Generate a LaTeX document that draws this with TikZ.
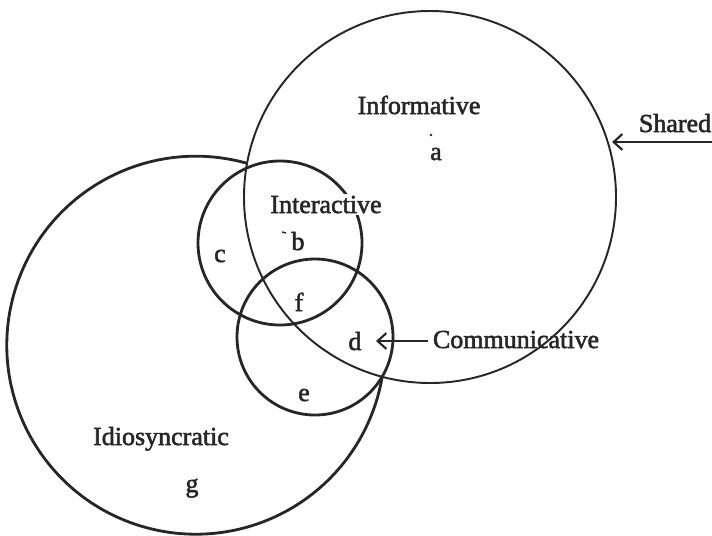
\documentclass[tikz,border=0pt]{standalone}
\usepackage{fontspec}
\setmainfont{Liberation Serif}
\newfontfamily\lblfont[FakeBold=2]{Liberation Serif}
\usetikzlibrary{arrows.meta}
\begin{document}
\begin{tikzpicture}[x=0.02cm,y=-0.02cm,
  thinring/.style={line width=1.1pt, draw=black!85},
  thickring/.style={line width=1.6pt, draw=black!85},
  lbl/.style={font=\lblfont\fontsize{14.8}{16}\selectfont, inner sep=0pt, anchor=base, text=black!85},
  pointer/.style={line width=1.2pt, draw=black!85, -{Straight Barb[length=5pt,width=9pt,line width=1.2pt]}}]
\useasboundingbox (0,0) rectangle (712,535);
% circles
\coordinate (infc) at (430,197);
\coordinate (intc) at (280,243);
\coordinate (comc) at (315,337);
\coordinate (idistart) at (246,163);
\draw[thinring] (infc) circle (186);
\draw[thickring] (intc) circle (82);
\draw[thickring] (comc) circle (78);
% idiosyncratic boundary: outer arc, closed by the two small circles
\draw[thickring] (idistart) arc[start angle=-74.6, end angle=-350, radius=189];
% labels
\node[lbl] (informative) at (419,114) {Informative};
\node[lbl] (a) at (436,160) {a};
\fill[black!85] (431,135) circle (1.3);
\node[lbl] (shared) at (675,132) {Shared};
\node[lbl, fill=white, inner sep=1pt] (interactive) at (326,213) {Interactive};
\node[lbl] (b) at (298,250) {b};
\draw[black!85, line width=0.8pt] (282,232) -- (286,233);
\node[lbl] (c) at (220,262) {c};
\node[lbl] (f) at (299,311) {f};
\node[lbl] (d) at (355,350) {d};
\node[lbl] (communicative) at (516,348) {Communicative};
\node[lbl] (e) at (304,401) {e};
\node[lbl] (idiosyncratic) at (161,445) {Idiosyncratic};
\node[lbl] (g) at (192,492) {g};
% arrows
\coordinate (sharedstart) at (712,142);
\coordinate (sharedend) at (612,142);
\coordinate (commstart) at (428,341);
\coordinate (commend) at (376,341);
\draw[pointer] (sharedstart) -- (sharedend);
\draw[pointer] (commstart) -- (commend);
\end{tikzpicture}
\end{document}
